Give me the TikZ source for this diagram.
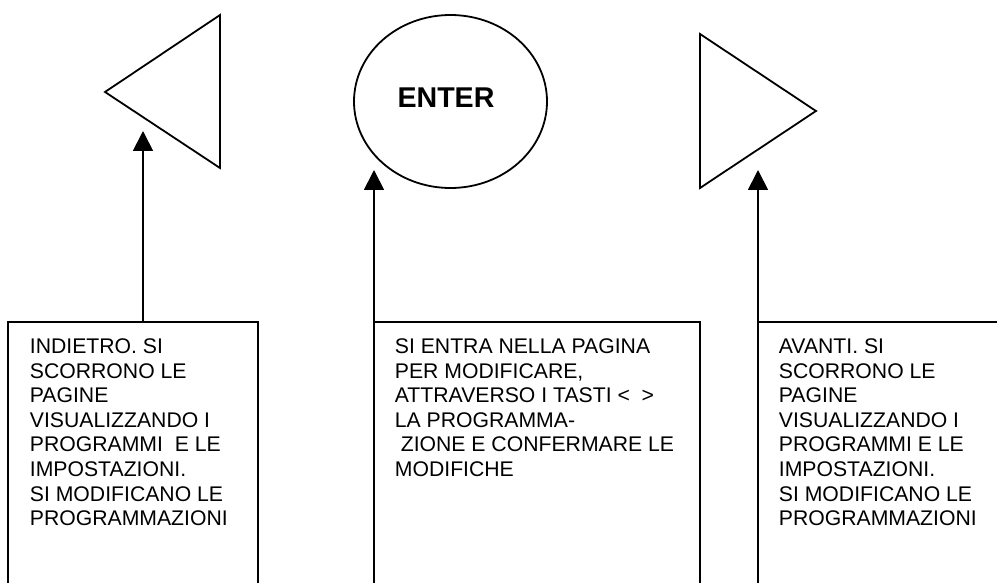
\documentclass[tikz,border=0pt]{standalone}
\usepackage{fontspec}
\setmainfont{Liberation Sans}
\usetikzlibrary{arrows.meta,shapes.geometric}
\begin{document}
\begin{tikzpicture}[x=1pt,y=-1pt,
  line width=1.8pt,
  keybox/.style={draw,line width=1.8pt,rectangle,inner sep=0pt},
  bodytext/.style={anchor=north west,inner sep=0pt,align=left,
    font=\fontsize{21.2}{24.6}\selectfont},
  arr/.style={-{Triangle[width=20pt,length=20pt]},line width=1.8pt}]
\useasboundingbox (0,0) rectangle (997,583);
\clip (0,0) rectangle (997,583);
% keys
\draw (105,92) -- (220,15) -- (220,168) -- cycle;
\node[draw,ellipse,minimum width=193pt,minimum height=173pt,inner sep=0pt] (enter) at (450.5,101.5) {};
\node[inner sep=0pt,text depth=0pt,font=\bfseries\fontsize{28.6}{30}\selectfont] (entertxt) at (446,97.5) {ENTER};
\draw (700,34) -- (816,111) -- (700,188) -- cycle;
% boxes
\draw[keybox] (8,590) -- (8,322) coordinate (lboxtop) -- (258,322) -- (258,590);
\node (lbox) at (133,322) {};
\draw[keybox] (374,590) -- (374,322) -- (700,322) -- (700,590);
\node (mbox) at (537,322) {};
\draw[keybox] (758,590) -- (758,322) -- (1005,322) -- (1005,590);
\node (rbox) at (880,322) {};
% texts
\node[bodytext] (ltext) at (29,337.8) {INDIETRO. SI\\SCORRONO LE\\PAGINE\\VISUALIZZANDO I\\PROGRAMMI~ E LE\\IMPOSTAZIONI.\\SI MODIFICANO LE\\PROGRAMMAZIONI};
\node[bodytext] (mtext) at (394,337.8) {SI ENTRA NELLA PAGINA\\PER MODIFICARE,\\ATTRAVERSO I TASTI <~~>\\LA PROGRAMMA-\\\hspace*{5.9pt}ZIONE E CONFERMARE LE\\MODIFICHE};
\node[bodytext] (rtext) at (778,337.8) {AVANTI. SI\\SCORRONO LE\\PAGINE\\VISUALIZZANDO I\\PROGRAMMI E LE\\IMPOSTAZIONI.\\SI MODIFICANO LE\\PROGRAMMAZIONI};
% arrows
\coordinate (tipL) at (143,131);
\coordinate (tipM) at (374,170);
\coordinate (tipR) at (758,170);
\draw[arr] (tipL |- lbox.center) -- (tipL);
\draw[arr] (tipM |- mbox.center) -- (tipM);
\draw[arr] (tipR |- rbox.center) -- (tipR);
\end{tikzpicture}
\end{document}
